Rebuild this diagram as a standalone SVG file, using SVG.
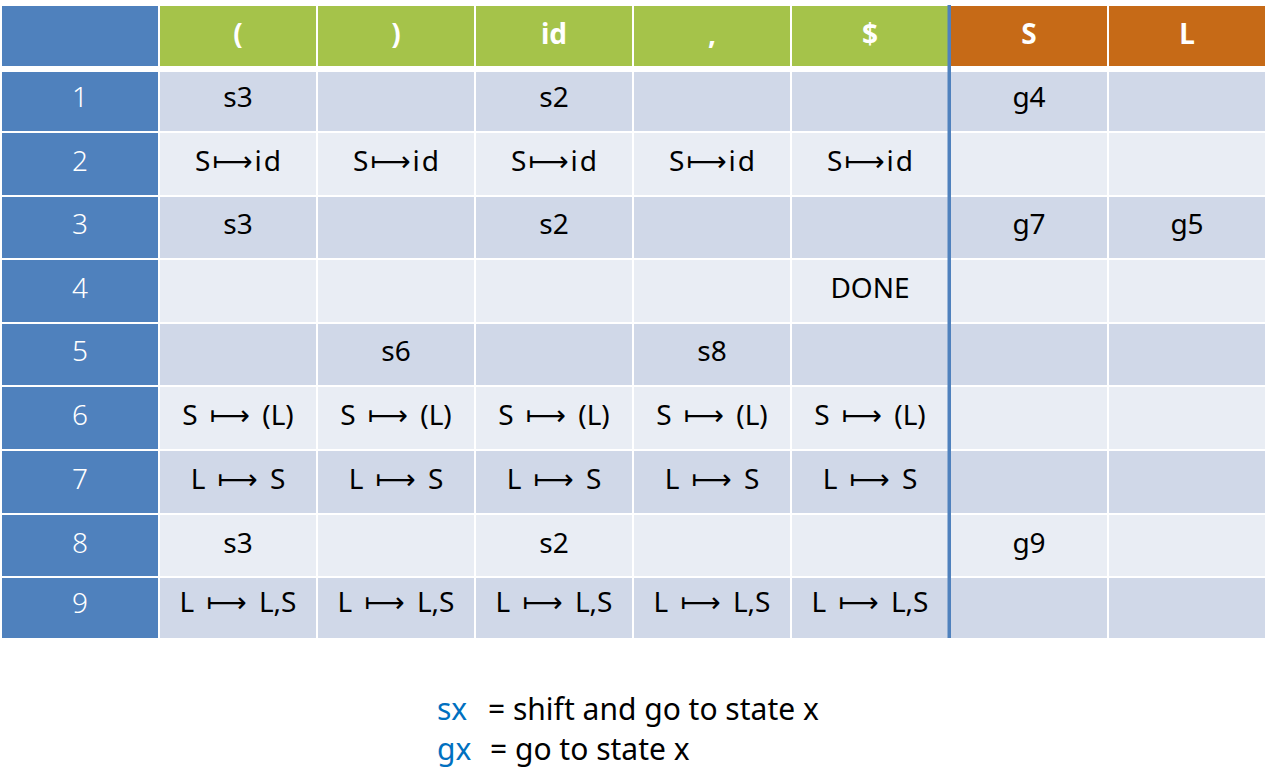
<svg xmlns="http://www.w3.org/2000/svg" width="1267" height="778" viewBox="0 0 1267 778">
<style>
text{font-family:"Noto Sans",Lato,"DejaVu Sans",sans-serif;font-size:28px;text-anchor:middle}
.h{fill:#fff;font-weight:bold;font-size:28px}
.n{fill:#fff;font-weight:300}
.c{fill:#000}
.r{word-spacing:5px}
.a{letter-spacing:2px}
.rc{fill:#4f81bd}
.g{fill:#a5c34a}
.o{fill:#c66a17}
.d{fill:#d0d8e8}
.l{fill:#e9edf4}
.leg{text-anchor:start;font-size:30px;fill:#000}
.b{fill:#0070c0}
</style>
<rect width="1267" height="778" fill="#fff"/>
<g id="header">
<rect class="rc" x="2" y="6" width="156" height="60"/>
<rect class="g" x="160" y="6" width="156" height="60"/>
<rect class="g" x="318" y="6" width="156" height="60"/>
<rect class="g" x="476" y="6" width="156" height="60"/>
<rect class="g" x="634" y="6" width="156" height="60"/>
<rect class="g" x="792" y="6" width="157" height="60"/>
<rect class="o" x="949" y="6" width="158" height="60"/>
<rect class="o" x="1109" y="6" width="156" height="60"/>
<text class="h" x="238" y="44">(</text>
<text class="h" x="396" y="44">)</text>
<text class="h" x="554" y="44">id</text>
<text class="h" x="712" y="44">,</text>
<text class="h" x="870" y="44">$</text>
<text class="h" x="1029" y="44">S</text>
<text class="h" x="1187" y="44">L</text>
</g>
<g id="row1">
<rect class="rc" x="2" y="72" width="156" height="59"/>
<rect class="d" x="160" y="72" width="156" height="59"/><rect class="d" x="318" y="72" width="156" height="59"/><rect class="d" x="476" y="72" width="156" height="59"/><rect class="d" x="634" y="72" width="156" height="59"/><rect class="d" x="792" y="72" width="157" height="59"/><rect class="d" x="949" y="72" width="158" height="59"/><rect class="d" x="1109" y="72" width="156" height="59"/>
<text class="n" x="80" y="107">1</text>
<text class="c" x="238" y="107">s3</text>
<text class="c" x="554" y="107">s2</text>
<text class="c" x="1029" y="107">g4</text>
</g>
<g id="row2">
<rect class="rc" x="2" y="133" width="156" height="62"/>
<rect class="l" x="160" y="133" width="156" height="62"/><rect class="l" x="318" y="133" width="156" height="62"/><rect class="l" x="476" y="133" width="156" height="62"/><rect class="l" x="634" y="133" width="156" height="62"/><rect class="l" x="792" y="133" width="157" height="62"/><rect class="l" x="949" y="133" width="158" height="62"/><rect class="l" x="1109" y="133" width="156" height="62"/>
<text class="n" x="80" y="171">2</text>
<text class="c a" x="239" y="171">S⟼id</text>
<text class="c a" x="397" y="171">S⟼id</text>
<text class="c a" x="555" y="171">S⟼id</text>
<text class="c a" x="713" y="171">S⟼id</text>
<text class="c a" x="871" y="171">S⟼id</text>
</g>
<g id="row3">
<rect class="rc" x="2" y="197" width="156" height="61"/>
<rect class="d" x="160" y="197" width="156" height="61"/><rect class="d" x="318" y="197" width="156" height="61"/><rect class="d" x="476" y="197" width="156" height="61"/><rect class="d" x="634" y="197" width="156" height="61"/><rect class="d" x="792" y="197" width="157" height="61"/><rect class="d" x="949" y="197" width="158" height="61"/><rect class="d" x="1109" y="197" width="156" height="61"/>
<text class="n" x="80" y="234">3</text>
<text class="c" x="238" y="234">s3</text>
<text class="c" x="554" y="234">s2</text>
<text class="c" x="1029" y="234">g7</text>
<text class="c" x="1187" y="234">g5</text>
</g>
<g id="row4">
<rect class="rc" x="2" y="260" width="156" height="62"/>
<rect class="l" x="160" y="260" width="156" height="62"/><rect class="l" x="318" y="260" width="156" height="62"/><rect class="l" x="476" y="260" width="156" height="62"/><rect class="l" x="634" y="260" width="156" height="62"/><rect class="l" x="792" y="260" width="157" height="62"/><rect class="l" x="949" y="260" width="158" height="62"/><rect class="l" x="1109" y="260" width="156" height="62"/>
<text class="n" x="80" y="298">4</text>
<text class="c" x="870" y="298">DONE</text>
</g>
<g id="row5">
<rect class="rc" x="2" y="324" width="156" height="61"/>
<rect class="d" x="160" y="324" width="156" height="61"/><rect class="d" x="318" y="324" width="156" height="61"/><rect class="d" x="476" y="324" width="156" height="61"/><rect class="d" x="634" y="324" width="156" height="61"/><rect class="d" x="792" y="324" width="157" height="61"/><rect class="d" x="949" y="324" width="158" height="61"/><rect class="d" x="1109" y="324" width="156" height="61"/>
<text class="n" x="80" y="361">5</text>
<text class="c" x="396" y="361">s6</text>
<text class="c" x="712" y="361">s8</text>
</g>
<g id="row6">
<rect class="rc" x="2" y="387" width="156" height="62"/>
<rect class="l" x="160" y="387" width="156" height="62"/><rect class="l" x="318" y="387" width="156" height="62"/><rect class="l" x="476" y="387" width="156" height="62"/><rect class="l" x="634" y="387" width="156" height="62"/><rect class="l" x="792" y="387" width="157" height="62"/><rect class="l" x="949" y="387" width="158" height="62"/><rect class="l" x="1109" y="387" width="156" height="62"/>
<text class="n" x="80" y="425">6</text>
<text class="c r" x="238" y="425">S ⟼ (L)</text>
<text class="c r" x="396" y="425">S ⟼ (L)</text>
<text class="c r" x="554" y="425">S ⟼ (L)</text>
<text class="c r" x="712" y="425">S ⟼ (L)</text>
<text class="c r" x="870" y="425">S ⟼ (L)</text>
</g>
<g id="row7">
<rect class="rc" x="2" y="451" width="156" height="62"/>
<rect class="d" x="160" y="451" width="156" height="62"/><rect class="d" x="318" y="451" width="156" height="62"/><rect class="d" x="476" y="451" width="156" height="62"/><rect class="d" x="634" y="451" width="156" height="62"/><rect class="d" x="792" y="451" width="157" height="62"/><rect class="d" x="949" y="451" width="158" height="62"/><rect class="d" x="1109" y="451" width="156" height="62"/>
<text class="n" x="80" y="489">7</text>
<text class="c r" x="238" y="489">L ⟼ S</text>
<text class="c r" x="396" y="489">L ⟼ S</text>
<text class="c r" x="554" y="489">L ⟼ S</text>
<text class="c r" x="712" y="489">L ⟼ S</text>
<text class="c r" x="870" y="489">L ⟼ S</text>
</g>
<g id="row8">
<rect class="rc" x="2" y="515" width="156" height="61"/>
<rect class="l" x="160" y="515" width="156" height="61"/><rect class="l" x="318" y="515" width="156" height="61"/><rect class="l" x="476" y="515" width="156" height="61"/><rect class="l" x="634" y="515" width="156" height="61"/><rect class="l" x="792" y="515" width="157" height="61"/><rect class="l" x="949" y="515" width="158" height="61"/><rect class="l" x="1109" y="515" width="156" height="61"/>
<text class="n" x="80" y="553">8</text>
<text class="c" x="238" y="553">s3</text>
<text class="c" x="554" y="553">s2</text>
<text class="c" x="1029" y="553">g9</text>
</g>
<g id="row9">
<rect class="rc" x="2" y="578" width="156" height="60"/>
<rect class="d" x="160" y="578" width="156" height="60"/><rect class="d" x="318" y="578" width="156" height="60"/><rect class="d" x="476" y="578" width="156" height="60"/><rect class="d" x="634" y="578" width="156" height="60"/><rect class="d" x="792" y="578" width="157" height="60"/><rect class="d" x="949" y="578" width="158" height="60"/><rect class="d" x="1109" y="578" width="156" height="60"/>
<text class="n" x="80" y="613">9</text>
<text class="c r" x="238" y="612">L ⟼ L,S</text>
<text class="c r" x="396" y="612">L ⟼ L,S</text>
<text class="c r" x="554" y="612">L ⟼ L,S</text>
<text class="c r" x="712" y="612">L ⟼ L,S</text>
<text class="c r" x="870" y="612">L ⟼ L,S</text>
</g>
<g id="connectors">
<rect x="947.5" y="5" width="3.5" height="633" fill="#4f81bd"/>
</g>
<g id="legend">
<text class="leg" x="437" y="720"><tspan class="b">sx</tspan><tspan x="488">= shift and go to state x</tspan></text>
<text class="leg" x="437" y="760"><tspan class="b">gx</tspan><tspan x="490">= go to state x</tspan></text>
</g>
</svg>
